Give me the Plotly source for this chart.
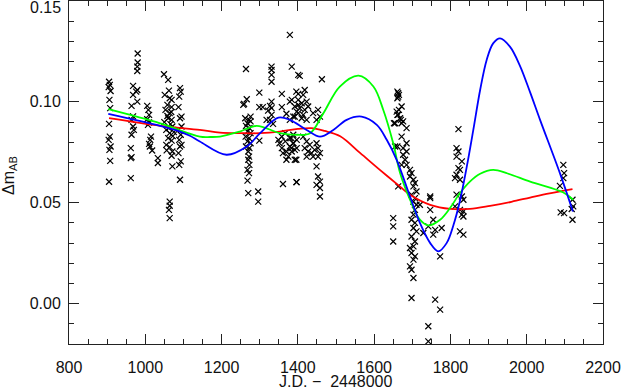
import plotly.graph_objects as go

# observed magnitude differences, grouped by season (J.D. - 2448000)
jd_a = [905, 907, 904, 909, 906, 908, 905, 907, 904, 909, 906, 908, 905]
dm_a = [0.110, 0.1084, 0.1073, 0.1054, 0.101, 0.0969, 0.0891, 0.0828, 0.0812, 0.0779, 0.0762, 0.0708, 0.0604]

jd_b = [980, 980, 979, 979, 968, 979, 976, 968, 979, 964, 968, 964, 968, 970, 964, 962, 964, 962, 962]
dm_b = [0.124, 0.1195, 0.1175, 0.1153, 0.1079, 0.1059, 0.1051, 0.1035, 0.1001, 0.098, 0.0928, 0.0911, 0.0878,
        0.0861, 0.0837, 0.0771, 0.0726, 0.0721, 0.0622]

jd_c = [1005, 1008, 1010, 1005, 1010, 1015, 1013, 1010, 1012, 1018, 1033, 1033, 1007]
dm_c = [0.098, 0.096, 0.0936, 0.0914, 0.0898, 0.0828, 0.0812, 0.0792, 0.0779, 0.0759, 0.0721, 0.0697, 0.0886]

jd_d = [1049, 1060, 1062, 1051, 1064, 1069, 1058, 1069, 1053, 1064, 1060, 1069, 1071, 1055, 1064, 1060, 1069,
        1055, 1064, 1071, 1069, 1071, 1064, 1064, 1062, 1064, 1091, 1093, 1089, 1087, 1095, 1091, 1095, 1087,
        1093, 1089, 1095, 1091, 1087, 1093, 1089, 1091, 1058, 1066, 1062, 1072, 1056, 1075, 1050, 1068]
dm_d = [0.1137, 0.1109, 0.1056, 0.1035, 0.1018, 0.101, 0.0985, 0.0974, 0.096, 0.0944, 0.0919, 0.0911, 0.0878,
        0.0861, 0.0845, 0.082, 0.0808, 0.0787, 0.0776, 0.0754, 0.0733, 0.068, 0.0506, 0.0485, 0.0465, 0.0424,
        0.1068, 0.1051, 0.1026, 0.0974, 0.0927, 0.0919, 0.0878, 0.0861, 0.0837, 0.0812, 0.0787, 0.0779, 0.0746,
        0.0705, 0.0688, 0.0614, 0.093, 0.089, 0.087, 0.083, 0.076, 0.085, 0.090, 0.095]

jd_e = [1264, 1259, 1266, 1299, 1299, 1308, 1262, 1272, 1268, 1276, 1264, 1273, 1268, 1276, 1263, 1272, 1268,
        1276, 1264, 1273, 1270, 1272, 1270, 1273, 1268, 1272, 1268, 1270, 1296, 1296, 1299, 1276, 1257]
dm_e = [0.1163, 0.099, 0.1013, 0.1046, 0.0974, 0.0974, 0.0919, 0.0911, 0.0894, 0.0903, 0.0881, 0.087, 0.0853,
        0.0845, 0.0828, 0.082, 0.0804, 0.0795, 0.0779, 0.0771, 0.0754, 0.0729, 0.0713, 0.0688, 0.0663, 0.0647,
        0.061, 0.0548, 0.0556, 0.0506, 0.0808, 0.0927, 0.0985]

jd_f = [1331, 1331, 1331, 1331, 1379, 1384, 1401, 1358, 1384, 1331, 1327, 1331, 1322, 1331, 1327, 1335, 1318,
        1358, 1370, 1379, 1397, 1392, 1401, 1401, 1352, 1358, 1367, 1370, 1379, 1388, 1361, 1375, 1384, 1397,
        1392, 1370, 1358, 1379, 1397, 1367, 1349, 1388, 1361, 1397,
        1405, 1463, 1396, 1418, 1414, 1401, 1410, 1423, 1392, 1405, 1418, 1414, 1401, 1427, 1388, 1410, 1423,
        1453, 1458, 1449, 1440, 1379, 1383, 1388, 1383, 1392, 1414, 1423, 1431, 1418, 1427, 1436, 1444, 1449,
        1453, 1458, 1440, 1453, 1396, 1423, 1449, 1453, 1458, 1449, 1458, 1458, 1396]
dm_f = [0.1175, 0.1158, 0.1134, 0.110, 0.1332, 0.1175, 0.1134, 0.104, 0.101, 0.1001, 0.098, 0.0969, 0.0957,
        0.0936, 0.0911, 0.0891, 0.0911, 0.0974, 0.0941, 0.0911, 0.0952, 0.0927, 0.0985, 0.104, 0.0795, 0.0771,
        0.0804, 0.0754, 0.0779, 0.0795, 0.0746, 0.0729, 0.0754, 0.0771, 0.0713, 0.0713, 0.0828, 0.082, 0.0812,
        0.0845, 0.0812, 0.0837, 0.0593, 0.0602,
        0.1129, 0.1112, 0.1051, 0.1059, 0.1035, 0.101, 0.0993, 0.1001, 0.0977, 0.0969, 0.096, 0.0936, 0.0944,
        0.0977, 0.0927, 0.0919, 0.0911, 0.096, 0.0927, 0.0911, 0.0944, 0.1001, 0.082, 0.0795, 0.0771, 0.0762,
        0.0828, 0.0804, 0.0787, 0.0771, 0.0754, 0.0746, 0.0762, 0.0795, 0.0771, 0.0746, 0.0729, 0.0729, 0.0713,
        0.0729, 0.068, 0.063, 0.0605, 0.0589, 0.0573, 0.0531, 0.0602]

jd_g = [1661, 1665, 1661, 1665, 1661, 1670, 1652, 1661, 1663, 1663, 1672, 1659, 1663, 1668, 1676, 1672, 1655,
        1685, 1672, 1655, 1676, 1685, 1685, 1676, 1681, 1672, 1685, 1694, 1698, 1694, 1703, 1707, 1703, 1711,
        1698, 1707, 1703, 1711, 1720, 1707, 1703, 1698, 1707, 1703, 1711, 1698, 1707, 1703, 1694, 1698, 1707,
        1703, 1694, 1698, 1703, 1698, 1650, 1650, 1650, 1663]
dm_g = [0.1051, 0.1035, 0.1018, 0.096, 0.0936, 0.0911, 0.0894, 0.0779, 0.1043, 0.1026, 0.0977, 0.0952, 0.0936,
        0.0919, 0.0903, 0.0894, 0.0894, 0.087, 0.0828, 0.0779, 0.0771, 0.0795, 0.0754, 0.0738, 0.0713, 0.0688,
        0.0688, 0.0663, 0.0647, 0.063, 0.0614, 0.0597, 0.0581, 0.0556, 0.054, 0.0523, 0.0506, 0.049, 0.049,
        0.0465, 0.0441, 0.0416, 0.04, 0.0375, 0.0358, 0.0333, 0.0308, 0.0284, 0.0276, 0.0251, 0.0234, 0.0218,
        0.0185, 0.0168, 0.0127, 0.0028, 0.0424, 0.0383, 0.0308, 0.0581]

jd_h = [1742, 1742, 1760, 1773, 1773, 1760, 1755, 1747, 1747, 1747, 1777, 1729, 1742, 1755]
dm_h = [-0.0112, -0.0187, 0.002, -0.003, 0.0234, 0.0366, 0.0416, 0.0531, 0.0523, 0.0465, 0.0375, 0.035, 0.0383,
        0.0342]

jd_i = [1821, 1816, 1821, 1816, 1821, 1825, 1830, 1816, 1812, 1825, 1816, 1830, 1834, 1812, 1825, 1834, 1830,
        1834, 1825, 1834]
dm_i = [0.0865, 0.0771, 0.0754, 0.0729, 0.0672, 0.0663, 0.0705, 0.0639, 0.0622, 0.0614, 0.054, 0.0531, 0.0515,
        0.0482, 0.0465, 0.0457, 0.0441, 0.0432, 0.0358, 0.0342]

jd_j = [2096, 2098, 2096, 2087, 2120, 2122, 2118, 2089, 2098, 2120]
dm_j = [0.0688, 0.0647, 0.0622, 0.0584, 0.0515, 0.0482, 0.0469, 0.0452, 0.0449, 0.0416]

# fitted curves
red_jd = [905, 1040, 1143, 1196, 1250, 1300, 1353, 1400, 1435, 1470, 1511, 1563, 1615, 1668, 1694, 1747, 1800,
          1851, 1904, 1960, 2009, 2060, 2120]
red_dm = [0.0919, 0.0881, 0.0861, 0.0848, 0.0845, 0.0845, 0.0853, 0.0866, 0.0870, 0.0856, 0.0830, 0.0747, 0.0663,
          0.0580, 0.0540, 0.0490, 0.0470, 0.0470, 0.0485, 0.0505, 0.0526, 0.0547, 0.0568]

green_jd = [903, 1039, 1143, 1170, 1196, 1248, 1292, 1353, 1397, 1432, 1467, 1510, 1559, 1598, 1624, 1650, 1668,
            1694, 1720, 1742, 1773, 1799, 1825, 1851, 1878, 1912, 1950, 2009, 2096, 2122]
green_dm = [0.0964, 0.0894, 0.0828, 0.0826, 0.0828, 0.0853, 0.0881, 0.0845, 0.0837, 0.0845, 0.0944, 0.1076,
            0.1130, 0.1076, 0.0960, 0.0795, 0.0647, 0.0515, 0.0416, 0.0388, 0.0416, 0.0474, 0.0548, 0.0605,
            0.0644, 0.0663, 0.0645, 0.0605, 0.0551, 0.0515]

blue_jd = [903, 1039, 1091, 1117, 1143, 1213, 1266, 1301, 1349, 1379, 1423, 1458, 1493, 1528, 1567, 1607, 1633,
           1659, 1694, 1720, 1747, 1768, 1790, 1808, 1825, 1843, 1860, 1878, 1895, 1912, 1930, 1956, 1982, 2009,
           2035, 2087, 2121]
blue_dm = [0.0940, 0.0881, 0.0853, 0.0832, 0.0804, 0.0738, 0.0779, 0.0845, 0.0922, 0.0911, 0.0861, 0.0828,
           0.0861, 0.0911, 0.0927, 0.0886, 0.0812, 0.0713, 0.0531, 0.0400, 0.0300, 0.0259, 0.0300, 0.0390,
           0.0510, 0.0680, 0.0861, 0.1060, 0.1208, 0.1290, 0.1315, 0.1274, 0.1180, 0.1047, 0.0911, 0.0647, 0.0457]

obs_jd = jd_a + jd_b + jd_c + jd_d + jd_e + jd_f + jd_g + jd_h + jd_i + jd_j
obs_dm = dm_a + dm_b + dm_c + dm_d + dm_e + dm_f + dm_g + dm_h + dm_i + dm_j

font_name = 'Liberation Sans, Arial, sans-serif'
axis_color = '#222222'

fig = go.Figure()
fig.add_trace(go.Scatter(x=obs_jd, y=obs_dm, mode='markers',
                         marker=dict(symbol='x-thin', size=6, line=dict(color='black', width=1.2)),
                         showlegend=False))
fig.add_trace(go.Scatter(x=red_jd, y=red_dm, mode='lines', line=dict(color='#ff0000', width=1.8, shape='spline'),
                         showlegend=False))
fig.add_trace(go.Scatter(x=green_jd, y=green_dm, mode='lines', line=dict(color='#00ff00', width=1.8, shape='spline'),
                         showlegend=False))
fig.add_trace(go.Scatter(x=blue_jd, y=blue_dm, mode='lines', line=dict(color='#0000ff', width=1.8, shape='spline'),
                         showlegend=False))

fig.update_xaxes(range=[800, 2200], tickvals=[800, 1000, 1200, 1400, 1600, 1800, 2000, 2200],
                 ticks='inside', ticklen=10, tickwidth=1, tickcolor=axis_color,
                 showline=True, linecolor=axis_color, linewidth=1, mirror='ticks',
                 showgrid=False, zeroline=False, ticklabelstandoff=9,
                 minor=dict(dtick=50, ticks='inside', ticklen=5, tickcolor=axis_color, showgrid=False),
                 tickfont=dict(family=font_name, size=16, color='#111111'))
fig.update_yaxes(range=[-0.02, 0.15], tickvals=[0.0, 0.05, 0.10], ticktext=['0.00', '0.05', '0.10'],
                 ticks='inside', ticklen=10, tickwidth=1, tickcolor=axis_color,
                 showline=True, linecolor=axis_color, linewidth=1, mirror='ticks',
                 showgrid=False, zeroline=False, ticklabelstandoff=4,
                 minor=dict(dtick=0.01, tick0=0, ticks='inside', ticklen=5, tickcolor=axis_color, showgrid=False),
                 tickfont=dict(family=font_name, size=16, color='#111111'))

fig.add_annotation(text='0.15', xref='paper', yref='paper', x=0, y=(344.5 - 8) / 343.5,
                   xanchor='right', yanchor='middle', xshift=-6, showarrow=False,
                   font=dict(family=font_name, size=16, color='#111111'))
fig.add_annotation(text='\u0394m<sub>AB</sub>', xref='paper', yref='paper', x=(10 - 69) / 534, y=0.49,
                   xanchor='center', yanchor='middle', textangle=-90, showarrow=False,
                   font=dict(family=font_name, size=16, color='#111111'))
fig.add_annotation(text='J.D. \u2212\u00a0\u00a02448000', xref='paper', yref='paper', x=0.5, y=(344.5 - 382) / 343.5,
                   xanchor='center', yanchor='middle', showarrow=False,
                   font=dict(family=font_name, size=16, color='#111111'))

fig.update_layout(width=623, height=391, margin=dict(l=69, r=20, t=1, b=47),
                  plot_bgcolor='white', paper_bgcolor='white', showlegend=False)

fig.write_html("out.html", config={'displayModeBar': False},
               post_script="document.body.style.margin='0';document.body.style.overflow='hidden';")
